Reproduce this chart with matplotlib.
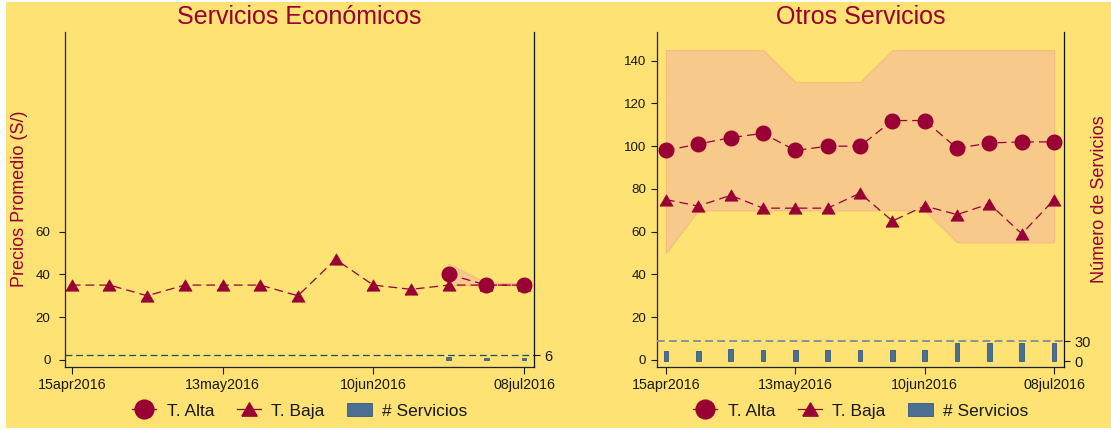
import matplotlib
matplotlib.use('Agg')
import matplotlib.pyplot as plt
import matplotlib.dates as mdates
from matplotlib.lines import Line2D
from matplotlib.patches import Patch, Rectangle
import numpy as np
import datetime as dt

plt.rcParams['font.family'] = ['Liberation Sans', 'DejaVu Sans']

# ---------------- data ----------------
dates = ['2016-04-15', '2016-04-22', '2016-04-29', '2016-05-06', '2016-05-13',
         '2016-05-20', '2016-05-27', '2016-06-03', '2016-06-10', '2016-06-17',
         '2016-06-24', '2016-07-01', '2016-07-08']
tick_dates = ['2016-04-15', '2016-05-13', '2016-06-10', '2016-07-08']
tick_labels = ['15apr2016', '13may2016', '10jun2016', '08jul2016']

nan = np.nan
# Servicios Económicos
eco_alta = [nan, nan, nan, nan, nan, nan, nan, nan, nan, nan, 40, 35, 35]
eco_baja = [35, 35, 30, 35, 35, 35, 30, 47, 35, 33, 35, 35, 35]
eco_lo = [nan, nan, nan, nan, nan, nan, nan, nan, nan, nan, 35, 35, 35]
eco_hi = [nan, nan, nan, nan, nan, nan, nan, nan, nan, nan, 45, 36, 36]
eco_n = [nan, nan, nan, nan, nan, nan, nan, nan, nan, nan, 4, 3, 3]
eco_ref = 6

# Otros Servicios
otr_alta = [98, 101, 104, 106, 98, 100, 100, 112, 112, 99, 101.5, 102, 102]
otr_baja = [75, 72, 77, 71, 71, 71, 78, 65, 72, 68, 73, 59, 75]
otr_lo = [50, 70, 70, 70, 70, 70, 70, 70, 70, 55, 55, 55, 55]
otr_hi = [145, 145, 145, 145, 130, 130, 130, 145, 145, 145, 145, 145, 145]
otr_n = [15, 15, 19, 17, 17, 17, 17, 17, 17, 28, 28, 28, 28]
otr_ref = 30

# ---------------- style ----------------
W, H = 1111, 430
BG = '#FEE273'
CRIM = '#990033'
BAND = '#F7C98B'
BAND_E = '#F4BC7E'
BAR = '#4B6E95'
BAR_E = '#395A7C'
TXT = '#1a1a1a'
TRI = [(-1, -0.866), (1, -0.866), (0, 0.866), (-1, -0.866)]

x = np.array([dt.datetime.strptime(d, '%Y-%m-%d') for d in dates])
xt = [dt.datetime.strptime(d, '%Y-%m-%d') for d in tick_dates]

fig = plt.figure(figsize=(W / 100, H / 100), dpi=100)
fig.patch.set_facecolor('white')
fig.patches.append(Rectangle((6 / W, 2 / H), 1 - 6 / W, 1 - 4 / H,
                             transform=fig.transFigure, facecolor=BG,
                             edgecolor='none', zorder=-10))


def panel(px0, px1, title, alta, baja, lo, hi, n, ref, yticks, y2ticks,
          y2lim, pad_l, pad_r, ytick_pad, ref_color, ref_lw, ref_dash,
          bar_w):
    top, bot = 32.3, 366.7
    ax = fig.add_axes([px0 / W, 1 - bot / H, (px1 - px0) / W, (bot - top) / H])
    ax.set_facecolor('none')
    lo = np.array(lo, float)
    hi = np.array(hi, float)
    ax.fill_between(x, lo, hi, facecolor=BAND, edgecolor=BAND_E, lw=0.8,
                    zorder=1)
    ax.plot(x, baja, color=CRIM, lw=0.9, dashes=(7, 4), marker=TRI,
            markersize=9.4, markeredgecolor=CRIM, markeredgewidth=0.5, zorder=2)
    ax.plot(x, alta, color=CRIM, lw=0.9, dashes=(7, 4), marker='o',
            markersize=10.5, markeredgecolor=CRIM, zorder=3)
    ax.set_ylim(-3.2, 153.3)
    ax.set_xlim(x[0] - dt.timedelta(days=pad_l), x[-1] + dt.timedelta(days=pad_r))
    ax.set_yticks(yticks)
    ax.set_xticks(xt)
    ax.set_xticklabels(tick_labels)
    ax.tick_params(axis='x', direction='out', length=5, width=0.8,
                   labelsize=10.3, colors=TXT, pad=3)
    ax.tick_params(axis='y', direction='out', length=4, width=0.8,
                   labelsize=9.6, colors=TXT, pad=ytick_pad)
    for s in ['top', 'right']:
        ax.spines[s].set_visible(False)
    for s in ['left', 'bottom']:
        ax.spines[s].set_color('#222222')
        ax.spines[s].set_linewidth(0.9)

    ax2 = ax.twinx()
    ax2.set_facecolor('none')
    n = np.array(n, float)
    m = ~np.isnan(n)
    ax2.bar(x[m], n[m], width=bar_w, color=BAR, edgecolor=BAR_E, lw=0.6,
            zorder=2)
    ax2.axhline(ref, color=ref_color, lw=ref_lw, dashes=ref_dash, zorder=3)
    ax2.set_ylim(*y2lim)
    ax2.set_yticks(y2ticks)
    ax2.tick_params(axis='y', direction='out', length=4, width=0.8,
                    labelsize=10.5, colors=TXT, pad=3)
    for s in ['top', 'left', 'bottom']:
        ax2.spines[s].set_visible(False)
    ax2.spines['right'].set_color('#111111')
    ax2.spines['right'].set_linewidth(0.9)

    cx = (px0 + px1) / 2 / W
    fig.text(cx, 1 - 17 / H, title, ha='center', va='center', fontsize=18,
             color=CRIM)
    handles = [Line2D([], [], color=CRIM, lw=0.9, marker='o', markersize=13.5),
               Line2D([], [], color=CRIM, lw=0.9, marker=TRI, markersize=11),
               Patch(facecolor=BAR, edgecolor=BAR_E, lw=0.6)]
    fig.legend(handles, ['T. Alta', 'T. Baja', '# Servicios'], loc='center',
               bbox_to_anchor=(cx, 1 - 411 / H), ncol=3, frameon=False,
               fontsize=12.5, handlelength=1.4, handletextpad=0.6,
               columnspacing=1.3, labelcolor=TXT)
    return ax, ax2


panel(65, 534.3, 'Servicios Económicos', eco_alta, eco_baja, eco_lo, eco_hi,
      eco_n, eco_ref, [0, 20, 40, 60], [eco_ref], (-7, 365), 1.26, 1.91, 6.5,
      '#2E4760', 0.9, (5.5, 3), 0.9)
panel(656.7, 1064.3, 'Otros Servicios', otr_alta, otr_baja, otr_lo, otr_hi,
      otr_n, otr_ref, list(range(0, 141, 20)), [0, otr_ref], (-8.5, 500),
      2.0, 2.2, 3.5, '#8A9297', 1.4, (4, 2.2), 1.0)

fig.text(20 / W, 1 - 199 / H, 'Precios Promedio (S/)', rotation=90,
         ha='center', va='center', fontsize=13, color=CRIM)
fig.text(1100 / W, 1 - 199 / H, 'Número de Servicios', rotation=90,
         ha='center', va='center', fontsize=13, color=CRIM)

fig.savefig('out.png', dpi=100, facecolor=fig.get_facecolor())
